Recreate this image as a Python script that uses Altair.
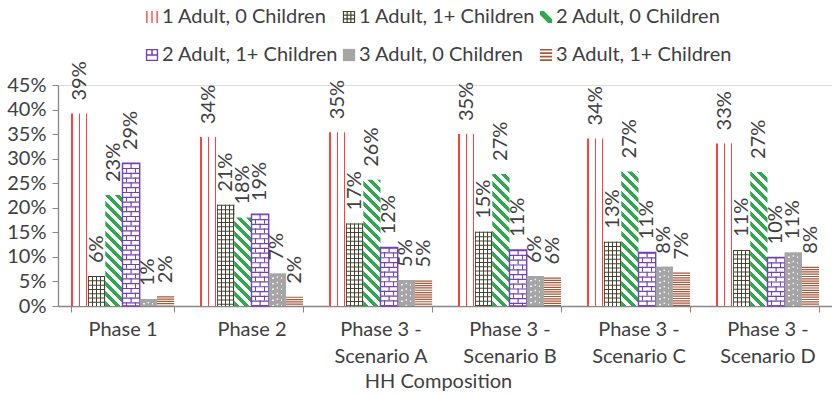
import altair as alt
import pandas as pd

# ---------------- data ----------------
groups = ["Phase 1", "Phase 2", "Phase 3 - Scenario A", "Phase 3 - Scenario B",
          "Phase 3 - Scenario C", "Phase 3 - Scenario D"]
series = ["1 Adult, 0 Children", "1 Adult, 1+ Children", "2 Adult, 0 Children",
          "2 Adult, 1+ Children", "3 Adult, 0 Children", "3 Adult, 1+ Children"]
a1_c0 = [0.392, 0.344, 0.354, 0.350, 0.341, 0.331]
a1_c1 = [0.061, 0.206, 0.168, 0.151, 0.131, 0.114]
a2_c0 = [0.226, 0.180, 0.257, 0.269, 0.274, 0.273]
a2_c1 = [0.291, 0.187, 0.119, 0.114, 0.109, 0.099]
a3_c0 = [0.014, 0.066, 0.053, 0.061, 0.080, 0.109]
a3_c1 = [0.020, 0.019, 0.052, 0.058, 0.068, 0.080]
values_by_series = [a1_c0, a1_c1, a2_c0, a2_c1, a3_c0, a3_c1]
y_ticks = [0, 0.05, 0.10, 0.15, 0.20, 0.25, 0.30, 0.35, 0.40, 0.45]

rows = []
for s, vals in zip(series, values_by_series):
    for g, v in zip(groups, vals):
        rows.append({"group": g, "series": s, "value": v})
df = pd.DataFrame(rows)

# ---------------- style ----------------
FONT = "Lato"
TEXT = "#404040"
AXIS = "#868686"
RED = "#ff4040"
OLIVE = "#45452f"
GREEN = "#2fa84f"
PURPLE = "#7440b4"
GRAY = "#a5a5a5"
BROWN = "#a4593a"
legend_colors = [RED, OLIVE, GREEN, PURPLE, GRAY, BROWN]

# legend symbols imitating the fill patterns (unit square -1..1)
legend_shapes = [
    "M-0.95,-1h0.22v2h-0.22z M-0.11,-1h0.22v2h-0.22z M0.73,-1h0.22v2h-0.22z",
    "M-1,-1h0.2v2h-0.2z M-0.4,-1h0.2v2h-0.2z M0.2,-1h0.2v2h-0.2z M0.8,-1h0.2v2h-0.2z "
    "M-1,-1h2v0.2h-2z M-1,-0.4h2v0.2h-2z M-1,0.2h2v0.2h-2z M-1,0.8h2v0.2h-2z",
    "M-1,-1L-0.35,-1L1,0.35L1,1L0.35,1L-1,-0.35Z",
    "M-1,-1H1V1H-1Z M-0.78,-0.78V0.78H0.78V-0.78Z M-1,-0.12H1V0.12H-1Z M-0.12,-1H0.12V0H-0.12Z",
    "M-1,-1H1V1H-1Z",
    "M-1,-1h2v0.28h-2z M-1,-0.43h2v0.28h-2z M-1,0.14h2v0.28h-2z M-1,0.71h2v0.28h-2z",
]

W, H = 774, 221
YMAX = 0.45
P_IN, P_OUT = 0.2, 0.1
step = W / (len(groups) - P_IN + 2 * P_OUT)
BW = step * (1 - P_IN) / len(series)


def band_stops(base, ink, intervals):
    stops, pos = [], 0.0
    for a, b in intervals:
        a, b = max(a, 0.0), min(b, 1.0)
        if a > pos:
            stops += [(pos, base), (a, base)]
        stops += [(a, ink), (b, ink)]
        pos = b
    if pos < 1:
        stops += [(pos, base), (1.0, base)]
    return [alt.GradientStop(offset=round(o, 4), color=c) for o, c in stops]


def xgrad(base, ink, intervals):
    return alt.LinearGradient(gradient="linear", x1=0, y1=0, x2=1, y2=0,
                              stops=band_stops(base, ink, intervals))


def diag_grad(h, w=BW, period=10.0, frac=0.5):
    # stripes running down-right at 45 degrees in pixel space
    L = w + h
    x2 = w * L / (w * w + h * h)
    y2 = 1 - h * L / (w * w + h * h)
    pt = period / L
    intervals = []
    t = 0.0
    while t < 1:
        intervals.append((t, t + pt * frac))
        t += pt
    return alt.LinearGradient(gradient="linear", x1=0, y1=1, x2=round(x2, 5), y2=round(y2, 5),
                              stops=band_stops("#ffffff", GREEN, intervals))


x_enc = alt.X("group:N", scale=alt.Scale(domain=groups, paddingInner=P_IN, paddingOuter=P_OUT),
              axis=alt.Axis(title="HH Composition", labelAngle=0, tickBand="extent",
                            domainColor=AXIS, tickColor=AXIS, tickSize=6, domainWidth=1.3,
                            labelFont=FONT, labelFontSize=20, labelColor=TEXT, labelPadding=7,
                            labelLineHeight=27,
                            labelExpr="indexof(datum.label, ' - ') > 0 ? [slice(datum.label, 0, indexof(datum.label, ' - ') + 2), slice(datum.label, indexof(datum.label, ' - ') + 3)] : datum.label",
                            titleFont=FONT, titleFontSize=20, titleColor=TEXT, titleFontWeight="normal",
                            titlePadding=5, titleX=380))
xo_enc = alt.XOffset("series:N", scale=alt.Scale(domain=series, paddingInner=0, paddingOuter=0))
y_enc = alt.Y("value:Q", scale=alt.Scale(domain=[0, YMAX], nice=False, zero=True),
              axis=alt.Axis(title=None, format=".0%", values=y_ticks, grid=False,
                            domainColor=AXIS, tickColor=AXIS, tickSize=6, domainWidth=1.3,
                            labelFont=FONT, labelFontSize=20, labelColor=TEXT, labelPadding=6))
y2_zero = alt.datum(0)

base = alt.Chart(df)


def of(s):
    return base.transform_filter(alt.datum.series == s)


legend = alt.Legend(title=None, orient="none", legendX=84, legendY=-78,
                    columns=3, direction="horizontal",
                    symbolSize=150, symbolOpacity=1, symbolStrokeWidth=0,
                    labelFont=FONT, labelFontSize=20, labelColor=TEXT,
                    labelOffset=0, columnPadding=0, rowPadding=18,
                    gridAlign="all", labelLimit=400)

# invisible layer that carries the legend
legend_layer = base.mark_point(opacity=0, filled=True).encode(
    x=x_enc, xOffset=xo_enc, y=y_enc,
    fill=alt.Fill("series:N", scale=alt.Scale(domain=series, range=legend_colors), legend=legend),
    shape=alt.Shape("series:N", scale=alt.Scale(domain=series, range=legend_shapes), legend=legend),
)

enc = dict(x=x_enc, xOffset=xo_enc, y=y_enc)
rule_enc = dict(x=x_enc, xOffset=xo_enc, y=y_enc, y2=y2_zero)

layers = [legend_layer]

# 1 Adult, 0 Children : red vertical lines
layers.append(of(series[0]).mark_bar(fill=xgrad("#ffffff", RED, [(0.03, 0.11), (0.46, 0.54), (0.88, 0.96)])).encode(**enc))

# 1 Adult, 1+ Children : olive grid
layers.append(of(series[1]).mark_bar(fill=xgrad("#ffffff", OLIVE, [(0, 0.055), (0.235, 0.29), (0.47, 0.525), (0.705, 0.76), (0.945, 1)])).encode(**enc))
layers.append(of(series[1]).mark_rule(stroke=OLIVE, strokeWidth=BW, strokeDash=[1.0, 3.3]).encode(**rule_enc))

# 2 Adult, 0 Children : green diagonal stripes
for g, v in zip(groups, a2_c0):
    h = v / YMAX * H
    layers.append(base.transform_filter((alt.datum.series == series[2]) & (alt.datum.group == g))
                  .mark_bar(fill=diag_grad(h)).encode(**enc))

# 2 Adult, 1+ Children : purple bricks
BH = 4.8
layers.append(of(series[3]).mark_bar(fill=xgrad("#ffffff", PURPLE, [(0.22, 0.29), (0.71, 0.78)])).encode(**enc))
layers.append(of(series[3]).mark_rule(stroke="#ffffff", strokeWidth=BW - 2, strokeDash=[BH, BH]).encode(**rule_enc))
layers.append(of(series[3]).mark_rule(stroke=PURPLE, strokeWidth=1.2, strokeDash=[BH, BH]).encode(**rule_enc))
layers.append(of(series[3]).mark_rule(stroke=PURPLE, strokeWidth=BW, strokeDash=[1.2, BH - 1.2]).encode(**rule_enc))
layers.append(of(series[3]).mark_bar(fillOpacity=0, stroke=PURPLE, strokeWidth=1.4).encode(**enc))

# 3 Adult, 0 Children : gray with white dots
DP = 5.5
DOT = "#f4f4f4"
layers.append(of(series[4]).mark_bar(fill=xgrad(GRAY, DOT, [(0.21, 0.30), (0.70, 0.79)])).encode(**enc))
layers.append(of(series[4]).mark_rule(stroke=GRAY, strokeWidth=BW, strokeDash=[DP - 1.5, 1.5]).encode(**rule_enc))
layers.append(of(series[4]).mark_rule(stroke=DOT, strokeWidth=1.5, strokeDash=[1.5, DP - 1.5], strokeDashOffset=DP / 2).encode(**rule_enc))

# 3 Adult, 1+ Children : brown horizontal lines
layers.append(of(series[5]).mark_bar(fill="#ffffff").encode(**enc))
layers.append(of(series[5]).mark_rule(stroke=BROWN, strokeWidth=BW, strokeDash=[1.2, 1.1]).encode(**rule_enc))

# value labels
layers.append(base.mark_text(angle=270, align="left", baseline="middle", dx=13,
                             font=FONT, fontSize=20, color=TEXT)
              .encode(x=x_enc, xOffset=xo_enc, y=y_enc, text=alt.Text("value:Q", format=".0%")))

chart = alt.layer(*layers).properties(
    width=W, height=H,
    autosize=alt.AutoSizeParams(type="none"),
    padding={"left": 58, "top": 85, "right": 0, "bottom": 88},
).configure_view(stroke=None).configure(font=FONT)

chart.save("out.html", embed_options={"renderer": "svg", "actions": False})
